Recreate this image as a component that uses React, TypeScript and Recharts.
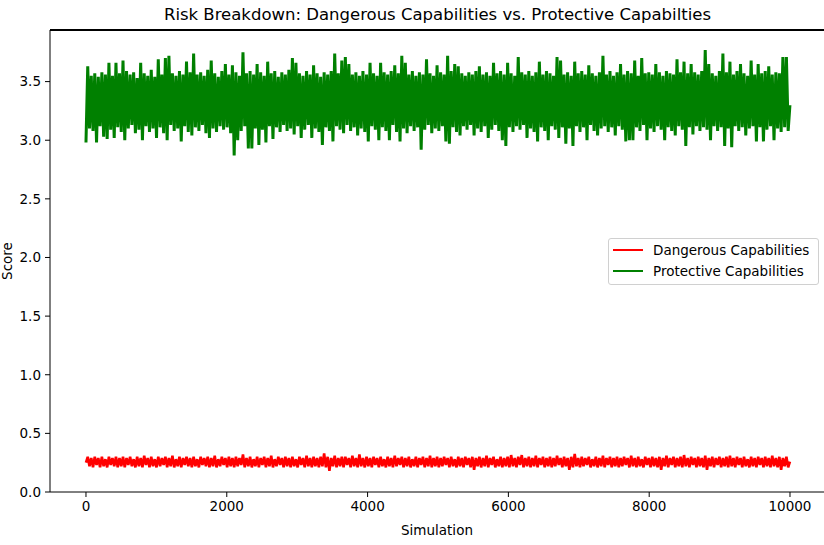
import { LineChart, Line, XAxis, YAxis } from 'recharts'

// one point per ~25 simulations (alternating bin highs / lows)
const protective = [
  2.98, 3.63, 3.10, 3.55, 3.08, 3.57, 2.98, 3.54, 3.12, 3.58, 3.03, 3.56, 3.01, 3.66, 3.09, 3.55, 3.02, 3.66, 3.11, 3.57,
  3.07, 3.68, 3.00, 3.59, 3.10, 3.56, 3.13, 3.58, 3.06, 3.53, 3.09, 3.66, 3.00, 3.57, 3.12, 3.55, 3.07, 3.60, 3.10, 3.54,
  3.02, 3.69, 3.11, 3.56, 3.06, 3.70, 3.00, 3.72, 3.13, 3.57, 3.08, 3.55, 3.10, 3.59, 2.99, 3.56, 3.12, 3.67, 3.07, 3.58,
  3.04, 3.74, 3.11, 3.56, 3.08, 3.58, 3.13, 3.55, 3.06, 3.60, 3.02, 3.68, 3.10, 3.57, 3.07, 3.54, 3.12, 3.59, 3.09, 3.65,
  3.11, 3.56, 3.06, 3.64, 2.87, 3.58, 3.00, 3.55, 3.08, 3.75, 3.12, 3.57, 2.93, 3.59, 2.93, 3.56, 3.10, 3.65, 2.96, 3.58,
  3.09, 3.55, 2.98, 3.67, 3.12, 3.57, 3.01, 3.59, 3.11, 3.54, 3.07, 3.58, 3.13, 3.56, 3.08, 3.60, 3.10, 3.70, 3.05, 3.66,
  3.12, 3.57, 3.02, 3.55, 3.09, 3.59, 3.13, 3.56, 3.02, 3.64, 3.10, 3.57, 3.07, 3.54, 2.96, 3.58, 3.11, 3.56, 3.08, 3.59,
  2.99, 3.74, 3.12, 3.57, 3.09, 3.68, 3.06, 3.71, 3.13, 3.65, 3.08, 3.56, 3.11, 3.58, 3.04, 3.55, 3.10, 3.59, 3.07, 3.56,
  2.99, 3.66, 3.12, 3.57, 3.09, 3.55, 3.00, 3.66, 3.11, 3.58, 3.08, 3.56, 3.00, 3.59, 3.13, 3.64, 3.07, 3.57, 2.99, 3.72,
  3.10, 3.66, 3.06, 3.56, 3.12, 3.59, 3.08, 3.55, 3.11, 3.58, 2.92, 3.56, 3.09, 3.69, 3.13, 3.57, 3.06, 3.55, 3.10, 3.64,
  3.08, 3.58, 3.12, 3.56, 2.99, 3.72, 2.97, 3.59, 3.11, 3.65, 3.07, 3.63, 3.04, 3.57, 3.12, 3.55, 3.09, 3.58, 3.13, 3.56,
  3.04, 3.59, 3.10, 3.63, 3.07, 3.56, 3.12, 3.58, 3.02, 3.55, 3.09, 3.66, 3.13, 3.57, 3.08, 3.59, 3.00, 3.56, 2.95, 3.66,
  3.11, 3.57, 3.07, 3.55, 3.12, 3.71, 3.09, 3.58, 3.13, 3.56, 3.02, 3.59, 3.10, 3.55, 3.07, 3.58, 2.99, 3.67, 3.11, 3.56,
  3.08, 3.59, 3.00, 3.57, 3.12, 3.55, 3.09, 3.71, 3.02, 3.68, 3.11, 3.56, 2.97, 3.58, 3.10, 3.55, 2.95, 3.67, 3.12, 3.57,
  3.07, 3.59, 3.11, 3.56, 3.00, 3.64, 3.13, 3.57, 3.08, 3.55, 3.04, 3.58, 3.10, 3.72, 3.12, 3.56, 3.07, 3.59, 3.11, 3.55,
  3.04, 3.58, 3.12, 3.65, 3.09, 3.56, 2.99, 3.59, 3.00, 3.57, 3.00, 3.68, 3.11, 3.55, 3.08, 3.70, 3.13, 3.57, 3.00, 3.58,
  3.10, 3.56, 3.07, 3.65, 3.12, 3.58, 3.09, 3.55, 3.00, 3.59, 3.11, 3.57, 3.08, 3.56, 3.04, 3.69, 3.12, 3.58, 3.09, 3.67,
  2.95, 3.57, 3.11, 3.65, 3.05, 3.58, 3.12, 3.56, 3.08, 3.59, 3.11, 3.77, 3.09, 3.65, 3.00, 3.57, 3.12, 3.55, 3.08, 3.59,
  3.11, 3.74, 2.95, 3.58, 3.10, 3.67, 2.94, 3.56, 3.12, 3.59, 3.08, 3.65, 3.11, 3.57, 3.04, 3.55, 3.10, 3.68, 3.12, 3.56,
  2.99, 3.65, 3.11, 3.57, 2.99, 3.59, 3.09, 3.63, 3.12, 3.56, 3.00, 3.58, 3.10, 3.57, 3.07, 3.71, 3.11, 3.71, 3.08, 3.30,
]

const dangerous = [
  0.25, 0.30, 0.22, 0.29, 0.21, 0.30, 0.23, 0.29, 0.21, 0.30, 0.22, 0.28, 0.21, 0.30, 0.23, 0.29, 0.22, 0.30, 0.21, 0.29,
  0.22, 0.30, 0.21, 0.29, 0.23, 0.30, 0.22, 0.28, 0.21, 0.30, 0.22, 0.29, 0.21, 0.31, 0.23, 0.29, 0.21, 0.30, 0.22, 0.28,
  0.21, 0.30, 0.22, 0.29, 0.23, 0.30, 0.21, 0.29, 0.22, 0.31, 0.21, 0.28, 0.22, 0.30, 0.21, 0.29, 0.23, 0.30, 0.22, 0.29,
  0.21, 0.30, 0.22, 0.28, 0.21, 0.30, 0.23, 0.29, 0.22, 0.30, 0.21, 0.29, 0.22, 0.31, 0.21, 0.28, 0.22, 0.30, 0.23, 0.29,
  0.21, 0.30, 0.22, 0.29, 0.21, 0.30, 0.22, 0.29, 0.23, 0.32, 0.21, 0.29, 0.22, 0.30, 0.21, 0.28, 0.22, 0.30, 0.21, 0.29,
  0.23, 0.30, 0.21, 0.29, 0.22, 0.31, 0.21, 0.28, 0.22, 0.30, 0.23, 0.29, 0.21, 0.30, 0.22, 0.29, 0.21, 0.30, 0.22, 0.28,
  0.21, 0.30, 0.23, 0.29, 0.21, 0.31, 0.22, 0.29, 0.21, 0.30, 0.22, 0.29, 0.21, 0.30, 0.22, 0.33, 0.21, 0.30, 0.18, 0.29,
  0.22, 0.31, 0.21, 0.29, 0.22, 0.30, 0.21, 0.30, 0.23, 0.29, 0.21, 0.31, 0.22, 0.29, 0.21, 0.32, 0.22, 0.29, 0.21, 0.30,
  0.22, 0.29, 0.21, 0.30, 0.23, 0.29, 0.21, 0.30, 0.22, 0.28, 0.21, 0.30, 0.22, 0.29, 0.21, 0.31, 0.22, 0.29, 0.23, 0.30,
  0.21, 0.29, 0.22, 0.30, 0.21, 0.28, 0.22, 0.30, 0.21, 0.29, 0.23, 0.30, 0.21, 0.29, 0.22, 0.31, 0.21, 0.29, 0.22, 0.30,
  0.21, 0.29, 0.22, 0.30, 0.23, 0.29, 0.21, 0.30, 0.22, 0.28, 0.21, 0.30, 0.22, 0.29, 0.21, 0.30, 0.23, 0.29, 0.21, 0.30,
  0.19, 0.29, 0.22, 0.30, 0.21, 0.29, 0.22, 0.31, 0.21, 0.29, 0.23, 0.30, 0.21, 0.28, 0.22, 0.30, 0.21, 0.29, 0.22, 0.30,
  0.21, 0.315, 0.22, 0.29, 0.21, 0.30, 0.23, 0.315, 0.21, 0.29, 0.22, 0.30, 0.21, 0.29, 0.22, 0.31, 0.21, 0.29, 0.23, 0.30,
  0.21, 0.29, 0.22, 0.30, 0.21, 0.29, 0.22, 0.31, 0.23, 0.29, 0.21, 0.30, 0.22, 0.29, 0.19, 0.30, 0.21, 0.325, 0.22, 0.29,
  0.21, 0.30, 0.22, 0.29, 0.23, 0.30, 0.21, 0.28, 0.22, 0.30, 0.21, 0.29, 0.22, 0.31, 0.21, 0.29, 0.23, 0.30, 0.21, 0.29,
  0.22, 0.30, 0.21, 0.29, 0.22, 0.30, 0.23, 0.29, 0.21, 0.31, 0.22, 0.29, 0.21, 0.30, 0.22, 0.28, 0.21, 0.30, 0.23, 0.29,
  0.21, 0.30, 0.22, 0.29, 0.21, 0.30, 0.19, 0.29, 0.22, 0.31, 0.21, 0.29, 0.23, 0.30, 0.21, 0.29, 0.22, 0.30, 0.21, 0.315,
  0.22, 0.29, 0.21, 0.30, 0.23, 0.29, 0.21, 0.30, 0.22, 0.29, 0.21, 0.31, 0.19, 0.29, 0.22, 0.30, 0.21, 0.29, 0.23, 0.30,
  0.21, 0.29, 0.22, 0.30, 0.21, 0.31, 0.22, 0.29, 0.21, 0.30, 0.23, 0.29, 0.21, 0.30, 0.22, 0.28, 0.21, 0.30, 0.22, 0.29,
  0.21, 0.30, 0.23, 0.29, 0.21, 0.30, 0.22, 0.29, 0.21, 0.31, 0.22, 0.29, 0.21, 0.30, 0.19, 0.29, 0.22, 0.30, 0.21, 0.26,
]

const xTicks = [0, 2000, 4000, 6000, 8000, 10000]
const yTicks = [0, 0.5, 1.0, 1.5, 2.0, 2.5, 3.0, 3.5]
const yMax = 3.94

const simulations = dangerous.map((_, i) => Math.round((i * 9999) / (dangerous.length - 1)))

const data = simulations.map((sim, i) => ({
  sim,
  dangerous: dangerous[i],
  protective: protective[i],
}))

const series = [
  { key: 'dangerous', name: 'Dangerous Capabilities', color: '#ff0000', width: 2.6 },
  { key: 'protective', name: 'Protective Capabilities', color: '#008000', width: 3 },
]

const font = '"DejaVu Sans", sans-serif'
const tickStyle = { fontSize: 13.5, fill: '#000', fontFamily: font }

const LegendBox = () => (
  <div
    style={{
      position: 'absolute',
      left: 608,
      top: 238,
      width: 211,
      height: 47,
      boxSizing: 'border-box',
      background: 'rgba(255,255,255,0.8)',
      border: '1px solid #d0d0d0',
      borderRadius: 3,
      padding: '0 6px 0 4px',
      fontFamily: font,
      fontSize: 13.5,
      color: '#000',
      zIndex: 2,
    }}
  >
    {series.map((s) => (
      <div key={s.key} style={{ display: 'flex', alignItems: 'center', height: 21 }}>
        <span style={{ display: 'inline-block', width: 30, height: 2, background: s.color, marginRight: 10 }} />
        <span>{s.name}</span>
      </div>
    ))}
  </div>
)

const App = () => {
  return (
    <div style={{ position: 'absolute', left: 0, top: 0, width: 824, height: 545, background: '#fff', overflow: 'hidden' }}>
      <div
        style={{
          position: 'absolute',
          left: 50,
          width: 775,
          top: 5,
          textAlign: 'center',
          fontFamily: font,
          fontSize: 16.5,
          color: '#000',
          zIndex: 2,
        }}
      >
        Risk Breakdown: Dangerous Capabilities vs. Protective Capabilties
      </div>
      <LineChart width={824} height={545} data={data} margin={{ top: 30, right: 0, bottom: 0, left: 0 }}>
        <XAxis
          dataKey="sim"
          type="number"
          domain={[-511, 10483]}
          ticks={xTicks}
          allowDataOverflow
          height={53}
          tick={tickStyle}
          tickSize={5}
          tickMargin={4}
          stroke="#000"
          label={{ value: 'Simulation', position: 'insideBottom', offset: 10, style: { fontFamily: font, fontSize: 13.5, fill: '#000' } }}
        />
        <YAxis
          type="number"
          domain={[0, yMax]}
          ticks={yTicks}
          allowDataOverflow
          width={50}
          tick={tickStyle}
          tickSize={5}
          tickMargin={4}
          tickFormatter={(v: number) => v.toFixed(1)}
          stroke="#000"
          label={{ value: 'Score', angle: -90, position: 'insideLeft', offset: 0, dx: 7, style: { fontFamily: font, fontSize: 13.5, fill: '#000', textAnchor: 'middle' } }}
        />
        {series.map((s) => (
          <Line
            key={s.key}
            type="linear"
            dataKey={s.key}
            name={s.name}
            stroke={s.color}
            strokeWidth={s.width}
            dot={false}
            activeDot={false}
            isAnimationActive={false}
          />
        ))}
      </LineChart>
      {/* top spine of the axes frame */}
      <div
        style={{
          position: 'absolute',
          left: 50,
          top: 29,
          width: 775,
          height: 2,
          background: '#000',
          zIndex: 3,
          pointerEvents: 'none',
        }}
      />
      <LegendBox />
    </div>
  )
}

export default App
